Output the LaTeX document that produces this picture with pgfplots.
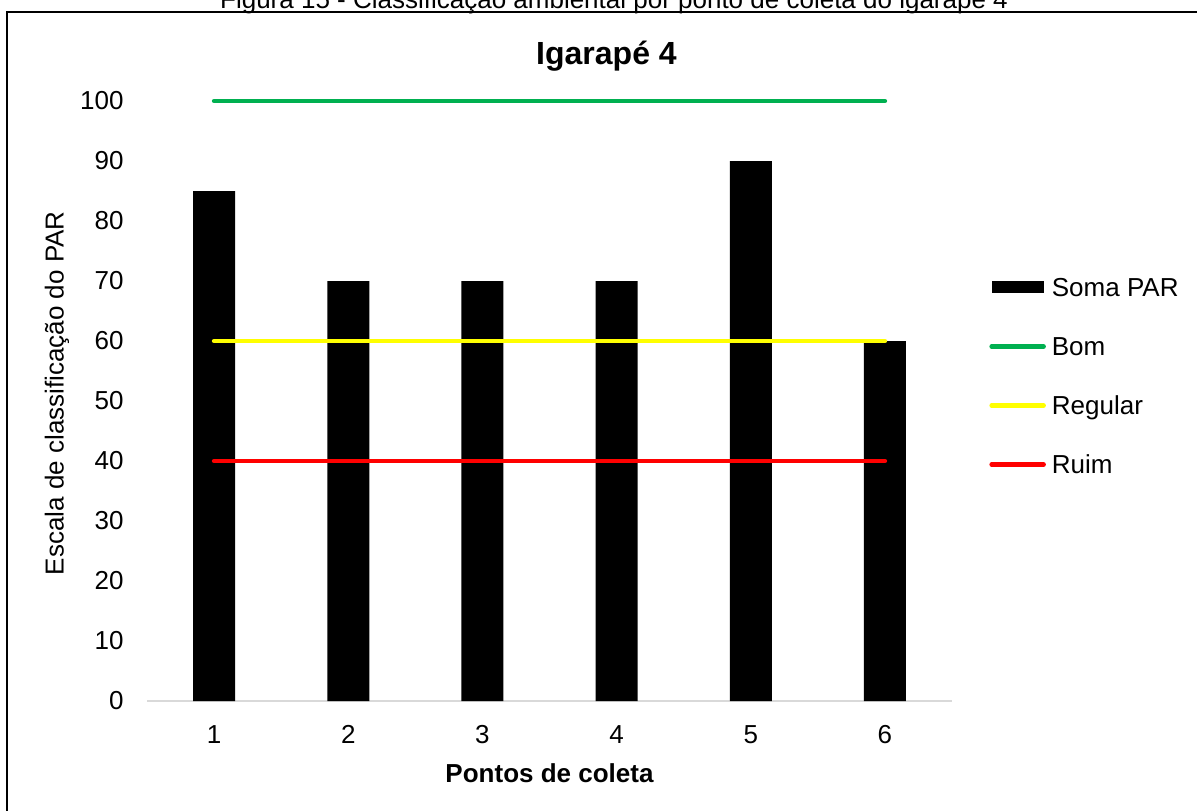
\documentclass[border=0pt]{standalone}
\usepackage{fontspec}
\setmainfont{Liberation Sans}
\usepackage{pgfplots}
\pgfplotsset{compat=1.18}

\definecolor{bom}{HTML}{00B050}
\definecolor{regular}{HTML}{FFFF00}
\definecolor{ruim}{HTML}{FF0000}
\newcommand{\cfont}{\fontsize{13}{15}\selectfont}
\pgfplotsset{
  linelegend/.style={legend image code/.code={\draw[##1] (0pt,0pt) -- (26pt,0pt);}},
  barlegend/.style={legend image code/.code={\fill[black] (0pt,-3pt) rectangle (26pt,3pt);}},
}

\begin{document}
\begin{tikzpicture}
\useasboundingbox (0,0) rectangle (598.5pt,405pt);
\clip (0,0) rectangle (598.5pt,405pt);
% moldura e legenda da figura (parcialmente cortadas)
\draw[line width=0.75pt] (3.5pt,-5pt) -- (3.5pt,399pt) -- (610pt,399pt);
\node[anchor=base, inner sep=0pt, font=\cfont] at (307pt,400.5pt)
  {Figura 15 - Classificação ambiental por ponto de coleta do igarapé 4};

\begin{axis}[
  at={(73.5pt,54.5pt)}, anchor=south west,
  scale only axis, width=402.5pt, height=300pt,
  xmin=0.5, xmax=6.5, ymin=0, ymax=100,
  xtick={1,...,6}, ytick={0,10,...,100},
  clip=false,
  axis x line*=bottom, axis y line*=left,
  y axis line style={draw=none},
  x axis line style={draw=black!15, line width=0.75pt},
  tick style={draw=none}, major tick length=0pt,
  /pgf/number format/assume math mode=true,
  tick label style={font=\cfont, inner sep=0pt},
  yticklabel style={anchor=east, xshift=-11.5pt},
  xticklabel style={anchor=north, yshift=-12pt},
  title={\bfseries Igarapé 4},
  title style={font=\fontsize{16}{18}\selectfont, at={(0.5,1)}, anchor=base,
    yshift=12pt, xshift=28.5pt},
  xlabel={\bfseries Pontos de coleta},
  xlabel style={font=\cfont, at={(axis description cs:0.5,-0.12)}, anchor=center},
  ylabel={Escala de classificação do PAR},
  ylabel style={font=\cfont, at={(axis description cs:-0.112,0.513)}, anchor=center},
  legend style={draw=none, fill=none, at={(axis description cs:1,0.5417)},
    xshift=18.5pt, anchor=west, inner sep=0pt, row sep=20.2pt, column sep=3pt,
    font=\cfont, nodes={inner sep=0pt, text height=9.3pt, text depth=0pt}},
  legend cell align=left,
]
\addplot[ybar, bar width=21pt, bar shift=0pt, fill=black, draw=none, barlegend]
  coordinates {(1,85) (2,70) (3,70) (4,70) (5,90) (6,60)};
\addlegendentry{Soma PAR}
\addplot[bom, line width=2.25pt, line cap=round, linelegend]
  coordinates {(1,100) (6,100)};
\addlegendentry{Bom}
\addplot[regular, line width=2.25pt, line cap=round, linelegend]
  coordinates {(1,60) (6,60)};
\addlegendentry{Regular}
\addplot[ruim, line width=2.25pt, line cap=round, linelegend]
  coordinates {(1,40) (6,40)};
\addlegendentry{Ruim}
\end{axis}
\end{tikzpicture}
\end{document}
